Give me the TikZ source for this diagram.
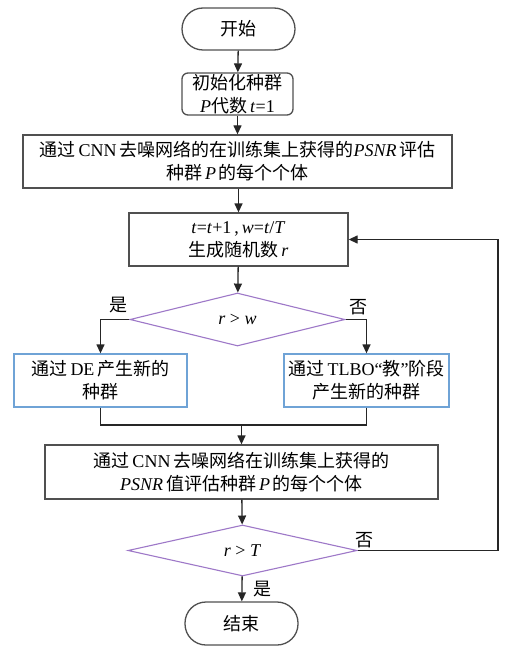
\documentclass[tikz,border=0pt]{standalone}
\usepackage{fontspec}
\setmainfont{Liberation Serif}
\newfontfamily\cjk{Noto Sans CJK SC}
\usetikzlibrary{shapes.geometric,arrows.meta}
\definecolor{boxgray}{HTML}{505050}
\definecolor{dpurple}{HTML}{9E78C8}
\definecolor{lblue}{HTML}{6FA3D6}
\begin{document}
\begin{tikzpicture}[x=1pt,y=-1pt,
  every node/.style={font=\fontsize{18}{23}\selectfont, align=center, inner sep=0pt},
  termbox/.style={draw=boxgray, line width=1.3pt, rounded corners=21pt, minimum width=113pt, minimum height=42pt},
  procbox/.style={draw=boxgray, line width=1.3pt, minimum height=53pt},
  bluebox/.style={draw=lblue, line width=1.3pt, minimum height=53pt},
  decbox/.style={diamond, aspect=4, draw=dpurple, line width=1.1pt},
  conn/.style={draw=black!85, line width=1.3pt},
  arr/.style={conn, -{Triangle[length=9pt,width=8pt]}},
  lbl/.style={font=\fontsize{18}{22}\selectfont}
]
\useasboundingbox (0,0) rectangle (506,647);
\fill[white] (0,0) rectangle (506,647);

\node[termbox] (start) at (238.5,29) {{\cjk 开始}};
\node[procbox, rounded corners=6pt, minimum width=111pt, minimum height=42pt] (init) at (237.5,94)
  {{\cjk 初始化种群}\\\textit{P}{\cjk 代数}\,\textit{t}=1};
\node[procbox, minimum width=429pt] (eval1) at (237.5,161.5)
  {{\cjk 通过}\,CNN\,{\cjk 去噪网络的在训练集上获得的}\textit{PSNR}\,{\cjk 评估}\\{\cjk 种群}\,\textit{P}\,{\cjk 的每个个体}};
\node[procbox, minimum width=219pt] (gen) at (238.5,239.5)
  {\textit{t}=\textit{t}+1\,,\,\textit{w}=\textit{t}/\textit{T}\\{\cjk 生成随机数}\,\textit{r}};
\node[decbox, minimum width=215pt, minimum height=53pt] (d1) at (237.5,319.5) {\textit{r} > \textit{w}};
\node[bluebox, minimum width=173pt] (de) at (100.5,380.5)
  {{\cjk 通过}\,DE\,{\cjk 产生新的}\\{\cjk 种群}};
\node[bluebox, minimum width=165pt] (tl) at (366.5,380.5)
  {{\cjk 通过}\,TLBO“{\cjk 教}”{\cjk 阶段}\\{\cjk 产生新的种群}};
\node[procbox, minimum width=393pt, minimum height=54pt] (eval2) at (241.5,472)
  {{\cjk 通过}\,CNN\,{\cjk 去噪网络在训练集上获得的}\\\textit{PSNR}\,{\cjk 值评估种群}\,\textit{P}\,{\cjk 的每个个体}};
\node[decbox, minimum width=229pt, minimum height=51pt] (d2) at (242.5,550.5) {\textit{r} > \textit{T}};
\node[termbox, minimum height=43pt] (stop) at (241.5,623.5) {{\cjk 结束}};

\coordinate (m) at (241.5,425);
\coordinate (fb) at (498,550.5);

\draw[arr] (start) -- (init);
\draw[arr] (init) -- (eval1);
\draw[arr] (eval1.south -| gen.north) -- (gen);
\draw[arr] (gen) -- (d1);
\draw[arr] (d1.west) -| (de.north);
\draw[arr] (d1.east) -| (tl.north);
\draw[conn] (de.south) |- (m);
\draw[conn] (tl.south) |- (m);
\draw[arr] (m) -- (eval2.north);
\draw[arr] (eval2) -- (d2);
\draw[arr] (d2) -- (stop);
\draw[arr] (d2.east) -- (fb) |- (gen.east);

\node[lbl] (yes1) at (118,305) {{\cjk 是}};
\node[lbl] (no1) at (358,307) {{\cjk 否}};
\node[lbl] (no2) at (364,540) {{\cjk 否}};
\node[lbl] (yes2) at (262,589) {{\cjk 是}};
\end{tikzpicture}
\end{document}
